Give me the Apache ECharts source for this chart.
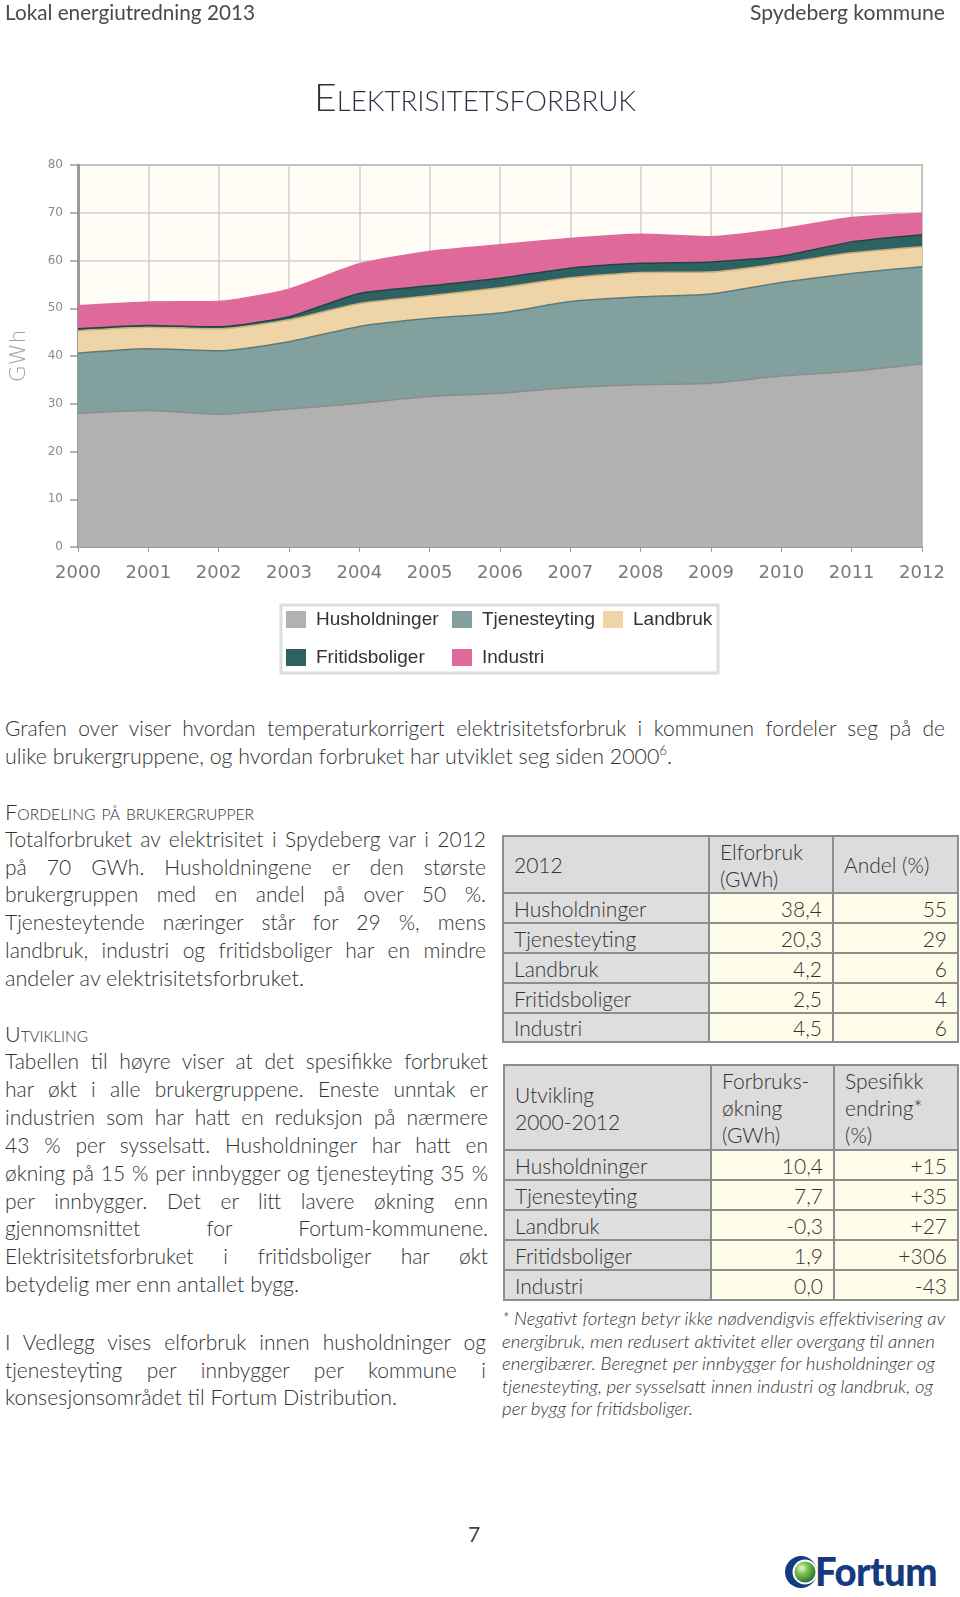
<!DOCTYPE html>
<html><head><meta charset="utf-8">
<script src="https://cdn.jsdelivr.net/npm/echarts/dist/echarts.min.js"></script>
<style>
body{margin:0;width:960px;height:1597px;position:relative;background:#fff;overflow:hidden;font-family:Lato,'Open Sans',sans-serif;color:#3b3b3b}
#chart{position:absolute;left:0;top:0;width:960px;height:700px}
.abs{position:absolute;white-space:nowrap}
.ln{white-space:nowrap;text-align:justify;text-align-last:justify;width:max-content}
.body{font-size:21px;font-weight:300;color:#333}
.sc{font-variant:small-caps;font-weight:300}
table{border-collapse:collapse;table-layout:fixed;font-size:21px;font-weight:300;color:#333}
td{border:2px solid #8d8d8d;padding:0 10px;vertical-align:middle;line-height:27px;overflow:hidden;white-space:nowrap}
td.h{background:#dcdcdc}
td.k{background:#dedede}
td.v{background:#fefde9;text-align:right}
.fn{font-style:italic;font-size:17px;font-weight:300;line-height:22.5px;color:#333}
.sup{font-size:13px;position:relative;top:-9px;line-height:0}
</style></head>
<body>
<div id="chart"></div>

<div class="abs" style="left:5px;top:-1px;font-size:21px;line-height:25px;color:#4a4a4a"><div class="ln" data-w="250">Lokal energiutredning 2013</div></div>
<div class="abs" style="left:750px;top:-1px;font-size:21px;line-height:25px;color:#4a4a4a"><div class="ln" data-w="195">Spydeberg kommune</div></div>

<div class="abs sc" style="left:314px;top:73px;font-size:38px;line-height:46px;color:#2a3440"><div class="ln" data-w="322">Elektrisitetsforbruk</div></div>

<div class="abs body" style="left:5px;top:714px;line-height:28px">
<div class="ln" data-w="940" data-j="1">Grafen over viser hvordan temperaturkorrigert elektrisitetsforbruk i kommunen fordeler seg på de</div>
<div class="ln" data-w="667">ulike brukergruppene, og hvordan forbruket har utviklet seg siden 2000<span class="sup">6</span>.</div>
</div>

<div class="abs body sc" style="left:5px;top:798px;line-height:28px"><div class="ln" data-w="249">Fordeling på brukergrupper</div></div>
<div class="abs body" style="left:5px;top:825px;line-height:27.7px">
<div class="ln" data-w="481" data-j="1">Totalforbruket av elektrisitet i Spydeberg var i 2012</div>
<div class="ln" data-w="481" data-j="1">på 70 GWh. Husholdningene er den største</div>
<div class="ln" data-w="481" data-j="1">brukergruppen med en andel på over 50 %.</div>
<div class="ln" data-w="481" data-j="1">Tjenesteytende næringer står for 29 %, mens</div>
<div class="ln" data-w="481" data-j="1">landbruk, industri og fritidsboliger har en mindre</div>
<div class="ln" data-w="299">andeler av elektrisitetsforbruket.</div>
</div>

<div class="abs body sc" style="left:5px;top:1020px;line-height:28px"><div class="ln" data-w="83">Utvikling</div></div>
<div class="abs body" style="left:5px;top:1047px;line-height:27.9px">
<div class="ln" data-w="483" data-j="1">Tabellen til høyre viser at det spesifikke forbruket</div>
<div class="ln" data-w="483" data-j="1">har økt i alle brukergruppene. Eneste unntak er</div>
<div class="ln" data-w="483" data-j="1">industrien som har hatt en reduksjon på nærmere</div>
<div class="ln" data-w="483" data-j="1">43 % per sysselsatt. Husholdninger har hatt en</div>
<div class="ln" data-w="483" data-j="1">økning på 15 % per innbygger og tjenesteyting 35 %</div>
<div class="ln" data-w="483" data-j="1">per innbygger. Det er litt lavere økning enn</div>
<div class="ln" data-w="483" data-j="1">gjennomsnittet for Fortum-kommunene.</div>
<div class="ln" data-w="483" data-j="1">Elektrisitetsforbruket i fritidsboliger har økt</div>
<div class="ln" data-w="294">betydelig mer enn antallet bygg.</div>
</div>

<div class="abs body" style="left:5px;top:1328px;line-height:27.5px">
<div class="ln" data-w="481" data-j="1">I Vedlegg vises elforbruk innen husholdninger og</div>
<div class="ln" data-w="481" data-j="1">tjenesteyting per innbygger per kommune i</div>
<div class="ln" data-w="392">konsesjonsområdet til Fortum Distribution.</div>
</div>

<table class="abs" style="left:502px;top:835px;width:455px">
<colgroup><col style="width:206px"><col style="width:124px"><col style="width:125px"></colgroup>
<tr style="height:57px"><td class="h">2012</td><td class="h">Elforbruk<br>(GWh)</td><td class="h">Andel (%)</td></tr>
<tr style="height:30px"><td class="k">Husholdninger</td><td class="v">38,4</td><td class="v">55</td></tr>
<tr style="height:30px"><td class="k">Tjenesteyting</td><td class="v">20,3</td><td class="v">29</td></tr>
<tr style="height:30px"><td class="k">Landbruk</td><td class="v">4,2</td><td class="v">6</td></tr>
<tr style="height:30px"><td class="k">Fritidsboliger</td><td class="v">2,5</td><td class="v">4</td></tr>
<tr style="height:29px"><td class="k">Industri</td><td class="v">4,5</td><td class="v">6</td></tr>
</table>

<table class="abs" style="left:503px;top:1064px;width:454px">
<colgroup><col style="width:207px"><col style="width:123px"><col style="width:124px"></colgroup>
<tr style="height:85px"><td class="h">Utvikling<br>2000-2012</td><td class="h">Forbruks-<br>økning<br>(GWh)</td><td class="h">Spesifikk<br>endring*<br>(%)</td></tr>
<tr style="height:30px"><td class="k">Husholdninger</td><td class="v">10,4</td><td class="v">+15</td></tr>
<tr style="height:30px"><td class="k">Tjenesteyting</td><td class="v">7,7</td><td class="v">+35</td></tr>
<tr style="height:30px"><td class="k">Landbruk</td><td class="v">-0,3</td><td class="v">+27</td></tr>
<tr style="height:30px"><td class="k">Fritidsboliger</td><td class="v">1,9</td><td class="v">+306</td></tr>
<tr style="height:30px"><td class="k">Industri</td><td class="v">0,0</td><td class="v">-43</td></tr>
</table>

<div class="abs fn" style="left:502px;top:1308px">
<div class="ln" data-w="443">* Negativt fortegn betyr ikke nødvendigvis effektivisering av</div>
<div class="ln" data-w="433">energibruk, men redusert aktivitet eller overgang til annen</div>
<div class="ln" data-w="433">energibærer. Beregnet per innbygger for husholdninger og</div>
<div class="ln" data-w="431">tjenesteyting, per sysselsatt innen industri og landbruk, og</div>
<div class="ln" data-w="191">per bygg for fritidsboliger.</div>
</div>

<div class="abs" style="left:468px;top:1521px;font-size:21px;line-height:26px;color:#444">7</div>

<svg class="abs" style="left:784px;top:1554px" width="34" height="36" viewBox="0 0 34 36">
<defs><radialGradient id="gg" cx="0.35" cy="0.32" r="0.75"><stop offset="0" stop-color="#eef9e4"/><stop offset="0.35" stop-color="#86c652"/><stop offset="1" stop-color="#1d6a2c"/></radialGradient></defs>
<circle cx="17" cy="18" r="16" fill="#163a80"/>
<circle cx="21" cy="18" r="12.5" fill="#ffffff"/>
<circle cx="21" cy="18" r="10.5" fill="url(#gg)"/>
</svg>
<div class="abs" style="left:815px;top:1549px;font-size:40px;line-height:44px;font-weight:900;color:#163a80;letter-spacing:-0.5px"><div class="ln" data-w="122">Fortum</div></div>

<script>
const years = ['2000','2001','2002','2003','2004','2005','2006','2007','2008','2009','2010','2011','2012'];
const husholdninger  = [28.0, 28.6, 27.8, 28.9, 30.1, 31.5, 32.2, 33.4, 34.0, 34.3, 35.8, 36.8, 38.4];
const tjenesteyting  = [12.6, 12.9, 13.3, 14.1, 16.1, 16.4, 16.8, 18.0, 18.4, 18.7, 19.6, 20.5, 20.3];
const landbruk       = [4.7, 4.5, 4.6, 4.6, 4.8, 4.7, 5.3, 5.0, 5.1, 4.6, 4.0, 4.3, 4.2];
const fritidsboliger = [0.4, 0.4, 0.4, 0.6, 2.1, 2.1, 2.0, 2.0, 1.9, 2.1, 1.5, 2.3, 2.5];
const industri       = [4.8, 4.9, 5.3, 5.8, 6.2, 7.2, 7.0, 6.2, 6.1, 5.3, 5.7, 5.1, 4.5];
const seriesNames = ['Husholdninger','Tjenesteyting','Landbruk','Fritidsboliger','Industri'];
const seriesData = [husholdninger, tjenesteyting, landbruk, fritidsboliger, industri];

const fills = ['#b1b1b1','#82a09e','#eed4a6','#2e6262','#e0699c'];
const edges = ['#8c8c8c','#5e7a78','#c9ad7c','#1f4646','#e0699c'];

const legendPos = [[286,610],[452,610],[603,610],[286,648],[452,648]];

const chart = echarts.init(document.getElementById('chart'), null, {renderer:'canvas'});
chart.setOption({
  animation:false,
  grid:{left:77, top:165, width:845, height:382, show:true, backgroundColor:'#fffdf6', borderColor:'#9a9a9a', borderWidth:2},
  xAxis:{type:'category', data:years, boundaryGap:false,
    axisLine:{lineStyle:{color:'#9a9a9a', width:2}},
    axisTick:{show:true, length:5, lineStyle:{color:'#9a9a9a'}},
    axisLabel:{color:'#7a7a7a', fontSize:18, fontFamily:'DejaVu Sans', margin:17},
    splitLine:{show:true, lineStyle:{color:'#cfcfcf', width:1.5}}},
  yAxis:{type:'value', min:0, max:80, interval:10, name:'GWh', nameLocation:'middle', nameGap:48, nameRotate:90,
    nameTextStyle:{fontSize:22, color:'#a0a0a0', fontFamily:'DejaVu Sans', fontWeight:'lighter'},
    axisLine:{show:true, lineStyle:{color:'#9a9a9a', width:3}},
    axisTick:{show:true, length:8, lineStyle:{color:'#9a9a9a', width:1.5}},
    axisLabel:{color:'#8a8a8a', fontSize:12, fontFamily:'DejaVu Sans', margin:15},
    splitLine:{show:true, lineStyle:{color:'#cfcfcf', width:1.5}}},
  legend: seriesNames.map((n,i)=>({data:[n], left:legendPos[i][0], top:legendPos[i][1], padding:0,
    icon:'rect', itemWidth:20, itemHeight:17, selectedMode:false,
    textStyle:{fontSize:19, color:'#333', fontFamily:'Liberation Sans', padding:[0,0,0,5]}})),
  graphic:[{type:'rect', z:0, shape:{x:281, y:605, width:437, height:68}, style:{fill:'#fff', stroke:'#dedede', lineWidth:3}}],
  series: seriesNames.map((n,i)=>({name:n, type:'line', stack:'total', data:seriesData[i], symbol:'none', smooth:0.2,
    itemStyle:{color:fills[i]}, lineStyle:{color:edges[i], width:1.5}, areaStyle:{color:fills[i], opacity:1}}))
});

document.querySelectorAll('[data-w]').forEach(el=>{
  const w = +el.dataset.w;
  const nat = el.getBoundingClientRect().width;
  if (el.dataset.j && nat <= w) { el.style.width = w + 'px'; }
  else { el.style.transformOrigin = 'left center'; el.style.transform = 'scaleX(' + (w/nat) + ')'; }
});
</script>
</body></html>
